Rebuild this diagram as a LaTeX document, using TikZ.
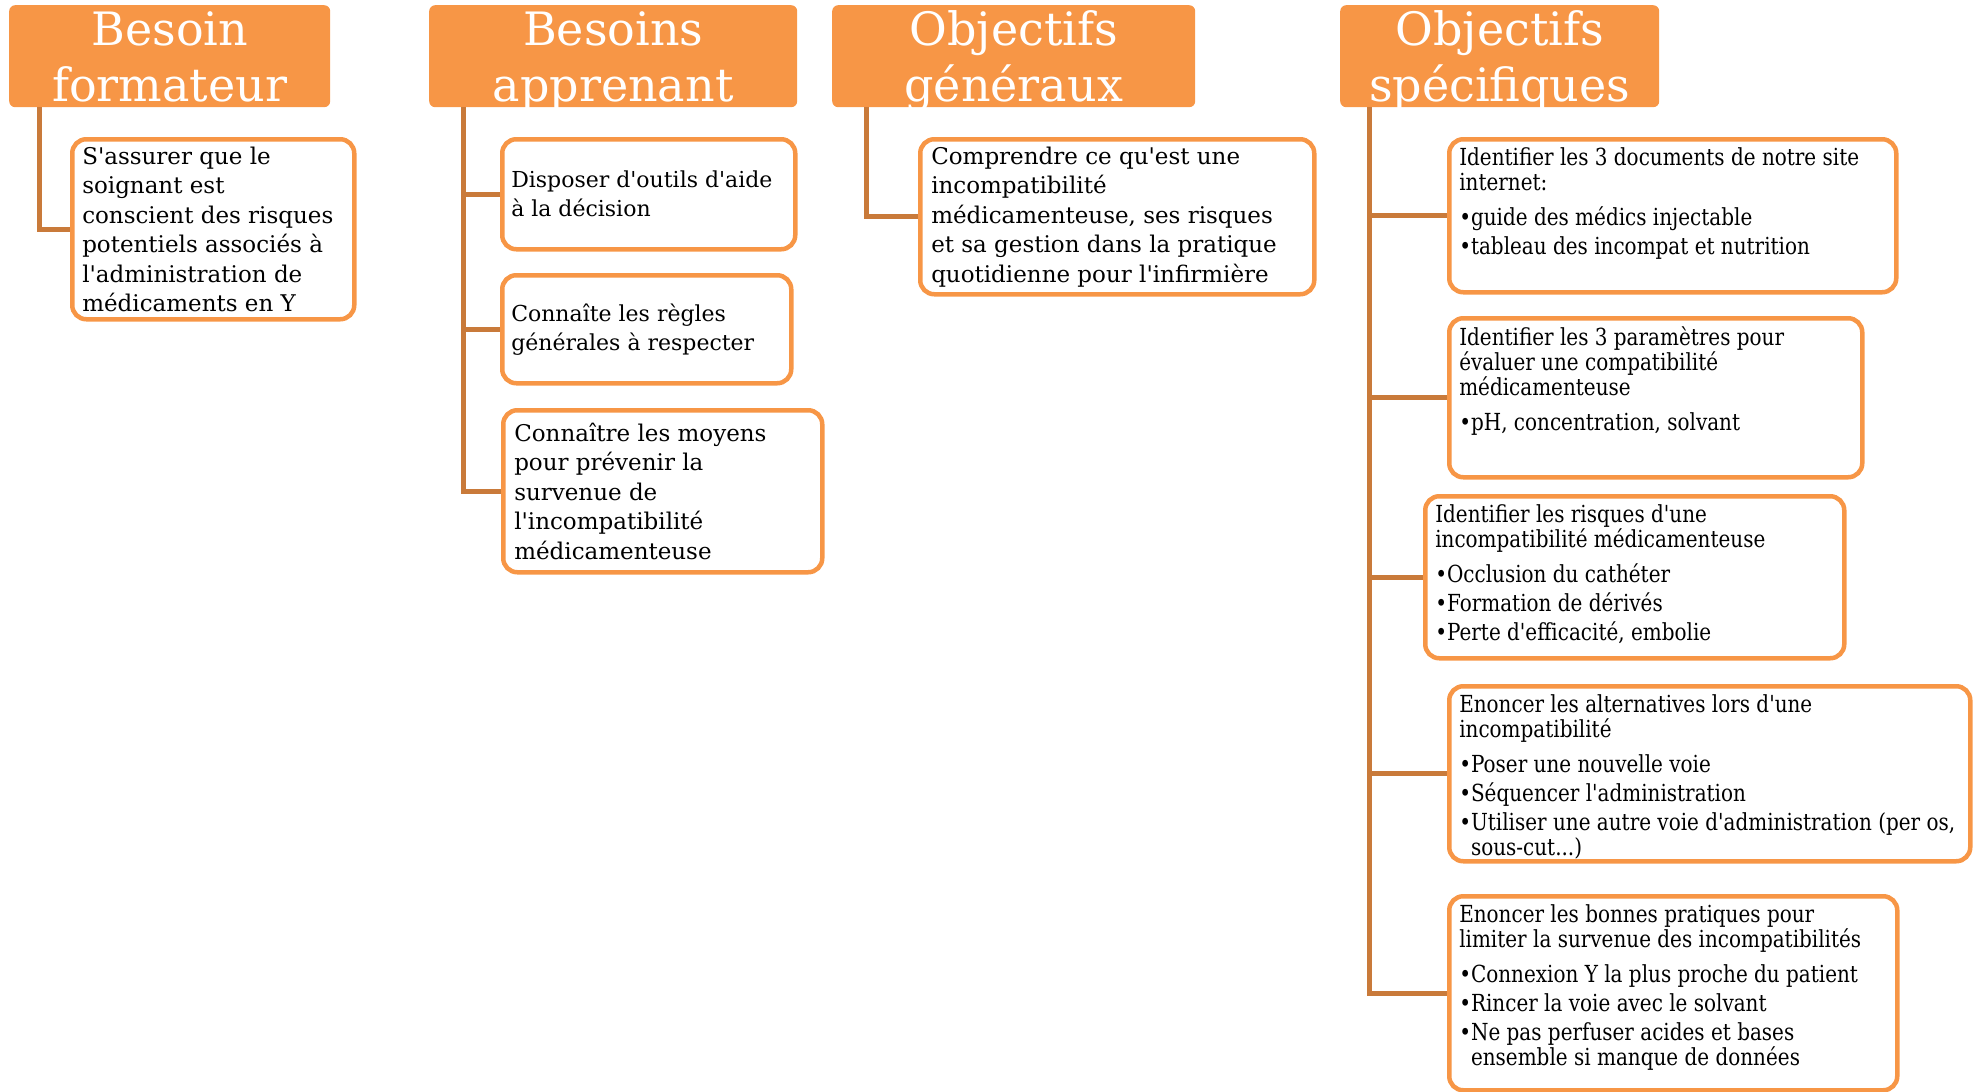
\documentclass[tikz,border=0pt]{standalone}
\usepackage{fontspec}
\setmainfont{DejaVu Serif}[Ligatures=TeXOff]
\newfontfamily\condfont[FakeStretch=0.85, Ligatures=TeXOff]{DejaVu Serif}
\usepackage{tikz}
\usetikzlibrary{calc, positioning}
\setlength{\parindent}{0pt}
\definecolor{hdrorange}{HTML}{F79646}
\definecolor{linkbrown}{HTML}{C97A3A}
\newcommand{\plainbox}[2]{\parbox{#1}{\raggedright #2}}
\newcommand{\specbox}[3]{\parbox[c][#2][t]{#1}{\raggedright\condfont\fontsize{23.5}{25}\selectfont\rule{0pt}{18pt}#3}}
\newcommand{\bul}{•}
\newcommand{\hang}{\phantom{•}}

\tikzset{
	header/.style={fill=hdrorange, rounded corners=6pt, text=white, align=center,
		font=\fontsize{46}{56}\selectfont, inner sep=0pt, text depth=0pt, anchor=north west},
	item/.style={draw=hdrorange, line width=4.5pt, rounded corners=14pt, fill=white,
		anchor=north west, inner sep=0pt, font=\fontsize{23}{29.5}\selectfont},
	spec/.style={item, inner xsep=10pt, inner ysep=8pt},
	link/.style={draw=linkbrown, line width=5pt}
}

\begin{document}
\begin{tikzpicture}[x=1pt, y=-1pt]
\useasboundingbox (0,0) rectangle (1974,1092);

\node[header, minimum width=321pt, minimum height=102pt] (formateur) at (9,5) {Besoin\\formateur};
\node[header, minimum width=368pt, minimum height=102pt] (apprenant) at (429,5) {Besoins\\apprenant};
\node[header, minimum width=363pt, minimum height=102pt] (generaux) at (832,5) {Objectifs\\généraux};
\node[header, minimum width=319pt, minimum height=102pt] (specifiques) at (1340,5) {Objectifs\\spécifiques};

\node[item, minimum width=282pt, minimum height=180pt] (need) at (70,137)
	{\plainbox{262pt}{S'assurer que le\\ soignant est\\ conscient des risques\\ potentiels associés à\\ l'administration de\\ médicaments en Y}};

\node[item, font=\fontsize{22}{29}\selectfont, minimum width=293pt, minimum height=110pt] (tools) at (500,137)
	{\plainbox{275pt}{Disposer d'outils d'aide\\ à la décision}};
\node[item, font=\fontsize{22}{29}\selectfont, minimum width=289pt, minimum height=108pt] (rules) at (500,273)
	{\plainbox{271pt}{Connaîte les règles\\ générales à respecter}};
\node[item, minimum width=319pt, minimum height=162pt] (means) at (501,408)
	{\plainbox{297pt}{Connaître les moyens\\ pour prévenir la\\ survenue de\\ l'incompatibilité\\ médicamenteuse}};

\node[item, minimum width=394pt, minimum height=155pt] (understand) at (918,137)
	{\plainbox{372pt}{Comprendre ce qu'est une\\ incompatibilité\\ médicamenteuse, ses risques\\ et sa gestion dans la pratique\\ quotidienne pour l'infirmière}};

\node[spec] (docs) at (1447,137)
	{\specbox{427pt}{137pt}{Identifier les 3 documents de notre site\\ internet:\\[10pt]
	\bul guide des médics injectable\\[4pt] \bul tableau des incompat et nutrition}};
\node[spec] (params) at (1447,316)
	{\specbox{393pt}{143pt}{Identifier les 3 paramètres pour\\ évaluer une compatibilité\\ médicamenteuse\\[10pt]
	\bul pH, concentration, solvant}};
\node[spec] (risks) at (1423,494)
	{\specbox{399pt}{146pt}{Identifier les risques d'une\\ incompatibilité médicamenteuse\\[10pt]
	\bul Occlusion du cathéter\\[4pt] \bul Formation de dérivés\\[4pt] \bul Perte d'efficacité, embolie}};
\node[spec] (altern) at (1447,684)
	{\specbox{501pt}{159pt}{Enoncer les alternatives lors d'une\\ incompatibilité\\[10pt]
	\bul Poser une nouvelle voie\\[4pt] \bul Séquencer l'administration\\[4pt]
	\bul Utiliser une autre voie d'administration (per os,\\ \hang sous-cut...)}};
\node[spec] (practice) at (1447,894)
	{\specbox{428pt}{178pt}{Enoncer les bonnes pratiques pour\\ limiter la survenue des incompatibilités\\[10pt]
	\bul Connexion Y la plus proche du patient\\[4pt] \bul Rincer la voie avec le solvant\\[4pt]
	\bul Ne pas perfuser acides et bases\\ \hang ensemble si manque de données}};

% links
\draw[link] ([xshift=30pt]formateur.south west) |- (need.west);
\foreach \n in {tools,rules,means}
	\draw[link] ([xshift=34pt]apprenant.south west) |- (\n.west);
\draw[link] ([xshift=34pt]generaux.south west) |- (understand.west);
\foreach \n in {docs,params,risks,altern,practice}
	\draw[link] ([xshift=29pt]specifiques.south west) |- (\n.west);

\end{tikzpicture}
\end{document}
